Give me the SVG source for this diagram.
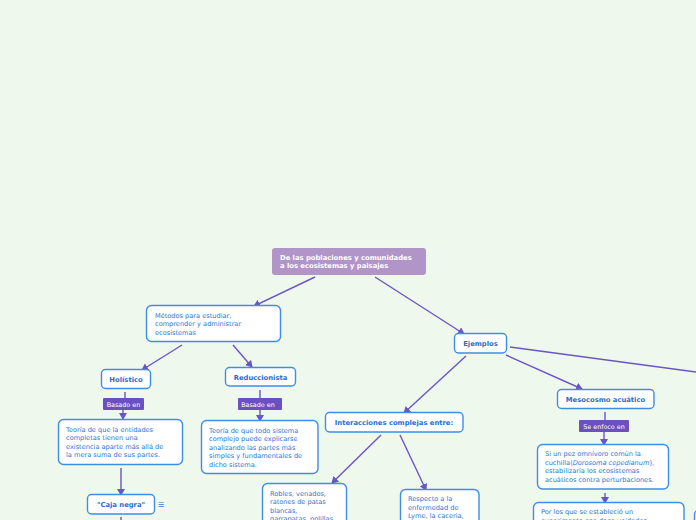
<svg xmlns="http://www.w3.org/2000/svg" width="696" height="520" viewBox="0 0 696 520">
<style>
.bg{fill:#eff8ec}
.box{fill:#ffffff;stroke:#3d8ee6;stroke-width:1.4}
.t{font-family:"DejaVu Sans",Verdana,sans-serif;font-size:6.6px;fill:#2a78d6}
.tb{font-family:"DejaVu Sans",Verdana,sans-serif;font-size:6.8px;font-weight:bold;fill:#1f6fd0;text-anchor:middle}
.root{fill:#b195c9}
.rt{font-family:"DejaVu Sans",Verdana,sans-serif;font-size:6.8px;font-weight:bold;fill:#ffffff}
.lab{fill:#6b50c2}
.lt{font-family:"DejaVu Sans",Verdana,sans-serif;font-size:6.4px;fill:#ffffff;text-anchor:middle}
.c{stroke:#6a55c6;stroke-width:1.4;fill:none}
</style>
<defs>
<marker id="ah" markerWidth="8" markerHeight="8" refX="6" refY="4" orient="auto" markerUnits="userSpaceOnUse">
<path d="M0,0 L7,4 L0,8 Z" fill="#6a55c6"/>
</marker>
</defs>
<rect class="bg" x="0" y="0" width="696" height="520"/>
<g id="connectors">
<line class="c" x1="315" y1="277" x2="254" y2="306" marker-end="url(#ah)"/>
<line class="c" x1="375" y1="277" x2="464" y2="334" marker-end="url(#ah)"/>
<line class="c" x1="182" y1="345" x2="142" y2="370" marker-end="url(#ah)"/>
<line class="c" x1="233" y1="345" x2="252" y2="367" marker-end="url(#ah)"/>
<line class="c" x1="125" y1="392" x2="125" y2="398"/>
<line class="c" x1="123" y1="410" x2="123" y2="419" marker-end="url(#ah)"/>
<line class="c" x1="260" y1="390" x2="260" y2="398"/>
<line class="c" x1="260" y1="410" x2="260" y2="421" marker-end="url(#ah)"/>
<line class="c" x1="121" y1="468" x2="121" y2="495" marker-end="url(#ah)"/>
<line class="c" x1="121" y1="517" x2="121" y2="520"/>
<line class="c" x1="466" y1="356" x2="404" y2="413" marker-end="url(#ah)"/>
<line class="c" x1="506" y1="355" x2="582" y2="389" marker-end="url(#ah)"/>
<line class="c" x1="510" y1="347" x2="696" y2="372"/>
<line class="c" x1="381" y1="435" x2="332" y2="483" marker-end="url(#ah)"/>
<line class="c" x1="400" y1="435" x2="426" y2="490" marker-end="url(#ah)"/>
<line class="c" x1="605" y1="412" x2="605" y2="420"/>
<line class="c" x1="604" y1="432" x2="604" y2="445" marker-end="url(#ah)"/>
<line class="c" x1="605" y1="493" x2="605" y2="503" marker-end="url(#ah)"/>
</g>
<g id="root">
<rect class="root" x="272" y="248" width="154" height="27" rx="3"/>
<text class="rt" x="280" y="259.5">De las poblaciones y comunidades</text>
<text class="rt" x="280" y="268">a los ecosistemas y paisajes</text>
</g>
<g id="metodos">
<rect class="box" x="146.5" y="305.5" width="134" height="36" rx="5"/>
<text class="t" x="155" y="317.5">Métodos para estudiar,</text>
<text class="t" x="155" y="326">comprender y administrar</text>
<text class="t" x="155" y="334.5">ecosistemas</text>
</g>
<g id="holistico">
<rect class="box" x="101.5" y="369.5" width="49" height="19" rx="4"/>
<text class="tb" x="126" y="382">Holístico</text>
</g>
<g id="reduccionista">
<rect class="box" x="225.5" y="367.5" width="70" height="18.5" rx="4"/>
<text class="tb" x="260.5" y="379.5">Reduccionista</text>
</g>
<g id="label-basado1">
<rect class="lab" x="103" y="398" width="41" height="12" rx="1"/>
<text class="lt" x="123.5" y="406.5">Basado en</text>
</g>
<g id="label-basado2">
<rect class="lab" x="238" y="398" width="44" height="12" rx="1"/>
<text class="lt" x="258" y="406.5">Basado en</text>
</g>
<g id="teoria-holistica">
<rect class="box" x="58.5" y="419.5" width="124" height="45" rx="5"/>
<text class="t" x="66" y="431.5">Teoría de que la entidades</text>
<text class="t" x="66" y="440">completas tienen una</text>
<text class="t" x="66" y="448.5">existencia aparte más allá de</text>
<text class="t" x="66" y="457">la mera suma de sus partes.</text>
</g>
<g id="teoria-reduccionista">
<rect class="box" x="201.5" y="420.5" width="116.5" height="53" rx="5"/>
<text class="t" x="209" y="432.5">Teoría de que todo sistema</text>
<text class="t" x="209" y="441">complejo puede explicarse</text>
<text class="t" x="209" y="449.5">analizando las partes más</text>
<text class="t" x="209" y="458">simples y fundamentales de</text>
<text class="t" x="209" y="466.5">dicho sistema.</text>
</g>
<g id="caja-negra">
<rect class="box" x="87.5" y="494.5" width="67" height="19.5" rx="4"/>
<text class="tb" x="121" y="507">"Caja negra"</text>
<text class="t" x="158" y="507" style="font-size:7px">☰</text>
</g>
<g id="ejemplos">
<rect class="box" x="454.5" y="333.5" width="52" height="19.5" rx="4"/>
<text class="tb" x="480.5" y="346">Ejemplos</text>
</g>
<g id="interacciones">
<rect class="box" x="325.5" y="412.5" width="137.5" height="19.5" rx="4"/>
<text class="tb" x="394" y="425">Interacciones complejas entre:</text>
</g>
<g id="robles">
<rect class="box" x="262.5" y="483.5" width="84" height="45" rx="5"/>
<text class="t" x="270" y="495.5">Robles, venados,</text>
<text class="t" x="270" y="504">ratones de patas</text>
<text class="t" x="270" y="512.5">blancas,</text>
<text class="t" x="270" y="521">garrapatas, polillas</text>
</g>
<g id="respecto">
<rect class="box" x="400.5" y="489.5" width="78.5" height="40" rx="5"/>
<text class="t" x="408" y="501">Respecto a la</text>
<text class="t" x="408" y="509.5">enfermedad de</text>
<text class="t" x="408" y="518">Lyme, la caceria,</text>
</g>
<g id="mesocosmo">
<rect class="box" x="557.5" y="389.5" width="96.5" height="19" rx="4"/>
<text class="tb" x="605.5" y="401.5">Mesocosmo acuático</text>
</g>
<g id="label-enfoco">
<rect class="lab" x="579" y="420" width="50" height="12" rx="1"/>
<text class="lt" x="604" y="428.5">Se enfoco en</text>
</g>
<g id="pez">
<rect class="box" x="537.5" y="444.5" width="131" height="44.5" rx="5"/>
<text class="t" x="545" y="456">Si un pez omnívoro común la</text>
<text class="t" x="545" y="464.5">cuchilla(<tspan font-style="italic">Dorosoma cepedianum</tspan>),</text>
<text class="t" x="545" y="473">estabilizaría los ecosistemas</text>
<text class="t" x="545" y="481.5">acuáticos contra perturbaciones.</text>
</g>
<g id="experimento">
<rect class="box" x="533.5" y="502.5" width="150.5" height="30" rx="5"/>
<text class="t" x="541" y="514">Por los que se estableció un</text>
<text class="t" x="541" y="522.5">experimento con doce unidades</text>
</g>
<g id="offscreen">
<rect class="box" x="694.5" y="510.5" width="20" height="20" rx="4"/>
</g>
</svg>
